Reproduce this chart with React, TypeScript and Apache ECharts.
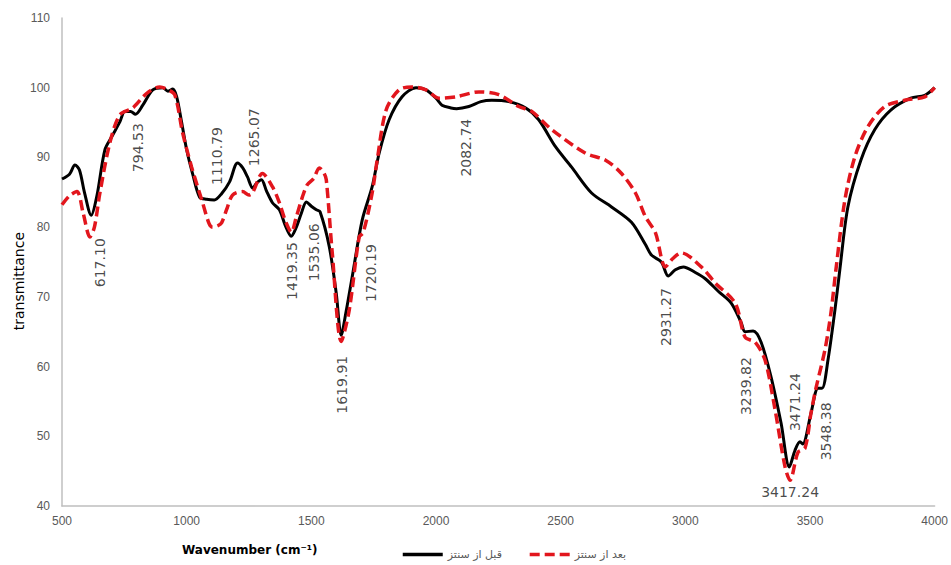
import React, { useEffect, useRef } from 'react';
import * as echarts from 'echarts';

// FT-IR spectrum before synthesis (solid black)
const beforeWavenumber = [
  500, 530, 552, 570, 590, 617.1, 640, 672, 700, 732, 752, 775, 794.5, 824, 864, 904, 925, 944, 960, 980,
  1000, 1025, 1052, 1080, 1110.8, 1140, 1172, 1204, 1225, 1244, 1265, 1280, 1300, 1320, 1344, 1372, 1395, 1419.4,
  1440, 1460, 1480, 1500, 1520, 1535, 1572, 1600, 1619.9, 1640, 1664, 1704, 1744, 1772, 1812, 1864, 1920, 1960,
  2000, 2024, 2060, 2082.7, 2132, 2180, 2224, 2292, 2360, 2412, 2480, 2544, 2624, 2704, 2784, 2840, 2864, 2904,
  2931.3, 2960, 2992, 3040, 3080, 3132, 3184, 3224, 3239.8, 3272, 3304, 3344, 3384, 3417.2, 3440, 3460, 3471.2,
  3504, 3532, 3548.4, 3572, 3600, 3620, 3652, 3704, 3760, 3824, 3904, 3960, 4000,
];
const beforeTransmittance = [
  86.9, 87.6, 88.9, 88.2, 85.0, 81.7, 84.5, 91.1, 93.0, 95.1, 96.6, 96.6, 96.2, 97.5, 99.7, 100.0, 99.5, 99.8, 98.7, 95.0,
  91.1, 87.5, 84.3, 84.0, 83.9, 84.8, 86.5, 89.2, 88.5, 87.2, 85.6, 86.3, 86.8, 85.2, 83.5, 82.5, 80.3, 78.7,
  80.0, 82.0, 83.6, 83.0, 82.5, 82.2, 77.2, 70.5, 64.5, 68.0, 72.9, 81.0, 85.8, 90.6, 95.4, 98.7, 100.0, 99.7,
  98.5, 97.5, 97.1, 97.0, 97.3, 98.0, 98.2, 98.0, 97.1, 95.4, 91.5, 88.6, 84.9, 82.9, 80.7, 77.5, 76.0, 75.0,
  73.0, 73.9, 74.3, 73.5, 72.6, 70.8, 69.1, 66.3, 65.0, 65.1, 63.5, 58.5, 51.9, 45.6, 48.0, 49.2, 48.9,
  53.3, 56.9, 56.9, 60.9, 68.1, 74.0, 82.9, 89.6, 94.0, 96.8, 98.5, 98.9, 100.0,
];

// FT-IR spectrum after synthesis (dashed red)
const afterWavenumber = [
  500, 530, 560, 585, 612, 630, 652, 692, 732, 784, 840, 892, 920, 952, 984, 1020, 1064, 1090, 1104, 1125,
  1140, 1160, 1184, 1224, 1250, 1264, 1304, 1344, 1372, 1395, 1420, 1440, 1464, 1484, 1510, 1532, 1550, 1560,
  1584, 1620, 1652, 1692, 1708, 1744, 1764, 1800, 1852, 1904, 1960, 2012, 2080, 2172, 2252, 2332, 2384, 2464,
  2600, 2680, 2744, 2800, 2840, 2880, 2920, 2950, 2984, 3064, 3120, 3200, 3240, 3280, 3320, 3360, 3400, 3420,
  3452, 3480, 3504, 3524, 3560, 3584, 3604, 3640, 3680, 3732, 3800, 3880, 3960, 4000,
];
const afterTransmittance = [
  83.2, 84.5, 85.1, 82.0, 78.6, 80.0, 84.9, 92.1, 96.1, 97.1, 99.2, 100.1, 99.8, 99.0, 93.5, 88.6, 83.5, 80.5, 80.0, 80.2,
  80.6, 82.5, 84.6, 85.1, 84.6, 84.9, 87.7, 85.8, 83.5, 81.0, 79.3, 81.5, 84.3, 86.1, 87.0, 88.5, 87.8, 86.8,
  76.3, 63.6, 68.1, 78.6, 79.2, 84.9, 89.6, 96.8, 99.7, 100.1, 99.7, 98.5, 98.7, 99.4, 99.0, 97.3, 96.6, 94.0,
  90.6, 89.6, 87.7, 84.9, 81.5, 79.2, 74.3, 75.5, 76.3, 74.3, 72.0, 69.1, 64.2, 63.5, 60.9, 53.8, 45.6, 43.7,
  47.7, 48.3, 53.3, 56.9, 62.4, 67.7, 73.9, 83.9, 90.1, 94.4, 97.3, 98.2, 98.7, 100.0,
];

// Assigned band positions (cm⁻¹)
const peakLabels = [
  '617.10', '794.53', '1110.79', '1265.07', '1419.35', '1535.06', '1619.91',
  '1720.19', '2082.74', '2931.27', '3239.82', '3471.24', '3548.38', '3417.24',
];

const seriesNames = ['قبل از سنتز', 'بعد از سنتز'];
const xTicks = { min: 500, max: 4000, interval: 500 };
const yTicks = { min: 40, max: 110, interval: 10 };

// Where each band label sits: shift along the wavenumber axis and transmittance level of its centre
const labelShift = [35, 10, 9, 7, 5, -23, 4, 20, 37, -7, 4, -31, 16, 3];
const labelLevel = [74.9, 91.4, 90.2, 92.9, 73.7, 76.4, 57.4, 73.4, 91.4, 67.1, 57.2, 54.9, 50.7, 42.0];

function pairs(xs: number[], ys: number[]) {
  return xs.map((x, i) => [x, ys[i]]);
}

export default function App() {
  const ref = useRef<HTMLDivElement>(null);

  useEffect(() => {
    if (!ref.current) return;
    const chart = echarts.init(ref.current, null, { renderer: 'svg' });

    const labelData = peakLabels.map((txt, i) => {
      const w = parseFloat(txt);
      const horizontal = i === peakLabels.length - 1;
      return {
        value: [w + labelShift[i], labelLevel[i]],
        label: {
          show: true,
          position: 'inside',
          rotate: horizontal ? 0 : 90,
          formatter: txt,
        },
      };
    });

    const tickFont = {
      color: '#595959',
      fontSize: 12,
      fontFamily: '"Liberation Sans", Arial, sans-serif',
    };

    chart.setOption({
      animation: false,
      backgroundColor: '#ffffff',
      grid: { left: 62, right: 14, top: 18, bottom: 59, containLabel: false },
      xAxis: {
        type: 'value',
        min: xTicks.min,
        max: xTicks.max,
        interval: xTicks.interval,
        axisLine: { show: true, lineStyle: { color: '#bfbfbf', width: 1.5 } },
        axisTick: { show: false },
        splitLine: { show: false },
        axisLabel: { ...tickFont, margin: 9, formatter: (v: number) => String(v) },
      },
      yAxis: {
        type: 'value',
        min: yTicks.min,
        max: yTicks.max,
        interval: yTicks.interval,
        axisLine: { show: true, lineStyle: { color: '#bfbfbf', width: 1.5 } },
        axisTick: { show: false },
        splitLine: { show: false },
        axisLabel: { ...tickFont, margin: 12 },
      },
      legend: {
        data: seriesNames,
        left: 396,
        top: 544,
        itemWidth: 40,
        itemHeight: 3,
        itemGap: 26,
        lineStyle: { width: 3.5 },
        textStyle: {
          color: '#595959',
          fontSize: 11,
          fontFamily: '"DejaVu Sans", sans-serif',
        },
      },
      graphic: [
        {
          type: 'text',
          left: 12,
          top: 232,
          rotation: Math.PI / 2,
          style: {
            text: 'transmittance',
            fill: '#000000',
            fontSize: 14,
            fontFamily: '"DejaVu Sans", Verdana, sans-serif',
          },
        },
        {
          type: 'text',
          left: 182,
          top: 544,
          style: {
            text: 'Wavenumber (cm⁻¹)',
            fill: '#000000',
            fontSize: 12,
            fontWeight: 'bold',
            fontFamily: '"DejaVu Sans", Verdana, sans-serif',
          },
        },
      ],
      series: [
        {
          name: seriesNames[0],
          type: 'line',
          data: pairs(beforeWavenumber, beforeTransmittance),
          smooth: 0.3,
          symbol: 'none',
          lineStyle: { color: '#000000', width: 3 },
          itemStyle: { color: '#000000' },
          z: 2,
        },
        {
          name: seriesNames[1],
          type: 'line',
          data: pairs(afterWavenumber, afterTransmittance),
          smooth: 0.3,
          symbol: 'none',
          lineStyle: { color: '#e2161d', width: 3.5, type: [10, 5] },
          itemStyle: { color: '#e2161d' },
          z: 3,
        },
        {
          name: 'bands',
          type: 'scatter',
          data: labelData,
          symbolSize: 0,
          silent: true,
          z: 5,
          label: {
            show: true,
            color: '#1a1a1a',
            fontSize: 14,
            fontFamily: '"DejaVu Sans", Verdana, sans-serif',
          },
        },
      ],
    });

    return () => chart.dispose();
  }, []);

  return (
    <div
      ref={ref}
      style={{ position: 'absolute', left: 0, top: 0, width: 951, height: 565 }}
    />
  );
}
